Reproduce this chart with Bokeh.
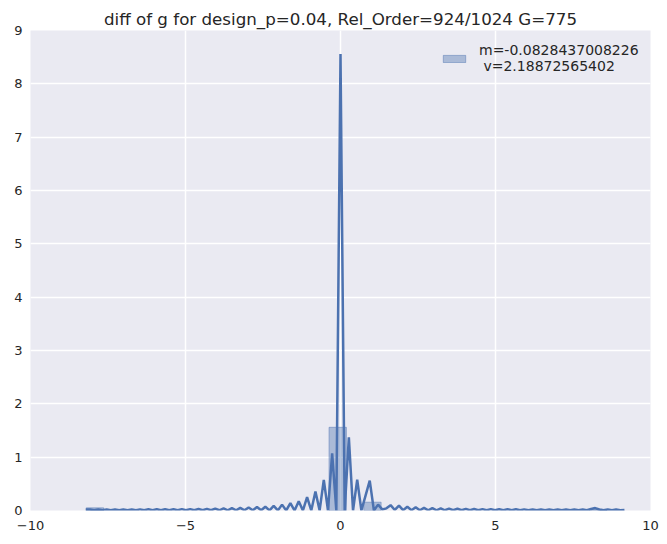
import numpy as np
from bokeh.plotting import figure
from bokeh.models import Range1d, FixedTicker, Legend, LegendItem, ColumnDataSource
from bokeh.embed import file_html
from bokeh.resources import INLINE

title_text = "diff of g for design_p=0.04, Rel_Order=924/1024 G=775"
legend_label = "m=-0.0828437008226\n v=2.18872565402"

# histogram (density) - non-empty bins only
hist_left = [-8.20, -0.37, 0.75, 8.03]
hist_right = [-7.64, 0.19, 1.31, 8.59]
hist_density = [0.05, 1.56, 0.156, 0.02]

# KDE evaluated on an even grid between these ends
kde_x_min = -8.217
kde_x_max = 9.160
kde_y = [
    0.020, 0.018, 0.004, 0.018, 0.004, 0.019, 0.004, 0.019, 0.004, 0.020,  # 0-9
    0.004, 0.020, 0.004, 0.021, 0.004, 0.022, 0.004, 0.022, 0.004, 0.023,  # 10-19
    0.004, 0.024, 0.004, 0.025, 0.004, 0.026, 0.004, 0.028, 0.004, 0.030,  # 20-29
    0.004, 0.035, 0.004, 0.040, 0.004, 0.045, 0.004, 0.050, 0.004, 0.055,  # 30-39
    0.004, 0.065, 0.004, 0.070, 0.003, 0.085, 0.002, 0.110, 0.001, 0.140,  # 40-49
    0.000, 0.175, 0.000, 0.250, 0.000, 0.356, 0.000, 0.575, 0.000, 1.070,  # 50-59
    0.000, 8.560, 0.000, 1.370, 0.000, 0.580, 0.000, 0.280, 0.560, 0.000,  # 60-69
    0.110, 0.020, 0.040, 0.100, 0.010, 0.090, 0.006, 0.070, 0.005, 0.060,  # 70-79
    0.005, 0.050, 0.004, 0.045, 0.004, 0.040, 0.004, 0.035, 0.004, 0.032,  # 80-89
    0.004, 0.030, 0.004, 0.028, 0.004, 0.026, 0.004, 0.025, 0.004, 0.024,  # 90-99
    0.004, 0.023, 0.004, 0.022, 0.004, 0.021, 0.004, 0.020, 0.004, 0.020,  # 100-109
    0.004, 0.019, 0.004, 0.019, 0.004, 0.019, 0.004, 0.018, 0.004, 0.018,  # 110-119
    0.006, 0.030, 0.045, 0.018, 0.004, 0.017, 0.004, 0.017, 0.004, 0.010,  # 120-129
]

x_ticks = [-10, -5, 0, 5, 10]
x_tick_labels = ["\u221210", "\u22125", "0", "5", "10"]
y_ticks = [0, 1, 2, 3, 4, 5, 6, 7, 8, 9]

BLUE = "#4C72B0"
TXT = "#262626"
FONT = "DejaVu Sans"

kde_x = np.linspace(kde_x_min, kde_x_max, len(kde_y))

p = figure(width=660, height=540, output_backend="svg", toolbar_location=None,
           x_range=Range1d(-10, 10), y_range=Range1d(0, 9),
           min_border_left=30, min_border_right=10, min_border_top=30,
           min_border_bottom=30)

p.title.text = title_text
p.title.align = "center"
p.title.text_font = FONT
p.title.text_font_style = "normal"
p.title.text_font_size = "16.7px"
p.title.text_color = TXT
p.title.standoff = 3
p.title.offset = 0

p.background_fill_color = "#EAEAF2"
p.border_fill_color = "white"
p.outline_line_color = None

p.xaxis.ticker = FixedTicker(ticks=x_ticks)
p.xaxis.major_label_overrides = {t: l for t, l in zip(x_ticks, x_tick_labels)}
p.yaxis.ticker = FixedTicker(ticks=y_ticks)
for ax in (p.xaxis, p.yaxis):
    ax.axis_line_color = None
    ax.major_tick_line_color = None
    ax.minor_tick_line_color = None
    ax.major_tick_out = 0
    ax.major_tick_in = 0
    ax.minor_tick_out = 0
    ax.major_label_text_font = FONT
    ax.major_label_text_font_size = "13px"
    ax.major_label_text_color = TXT
p.xaxis.major_label_standoff = 10
p.yaxis.major_label_standoff = 8

p.grid.grid_line_color = "white"
p.grid.grid_line_width = 1.5
p.xgrid.ticker = FixedTicker(ticks=x_ticks)
p.ygrid.ticker = FixedTicker(ticks=y_ticks)

hsrc = ColumnDataSource(dict(left=hist_left, right=hist_right, top=hist_density,
                             bottom=[0] * len(hist_left)))
hr = p.quad(left="left", right="right", top="top", bottom="bottom", source=hsrc,
            fill_color=BLUE, fill_alpha=0.4, line_color=BLUE, line_alpha=0.45,
            line_width=1)

p.line(kde_x, kde_y, line_color=BLUE, line_width=2.5)

legend = Legend(items=[LegendItem(label=legend_label, renderers=[hr])],
                location=(410, 436))
legend.background_fill_alpha = 0
legend.border_line_alpha = 0
legend.padding = 0
legend.margin = 0
legend.spacing = 0
legend.glyph_width = 28
legend.glyph_height = 9
legend.label_standoff = 11
legend.label_text_font = FONT
legend.label_text_font_size = "14px"
legend.label_text_color = TXT
p.add_layout(legend, "center")

open("out.html", "w").write(file_html(p, INLINE))
